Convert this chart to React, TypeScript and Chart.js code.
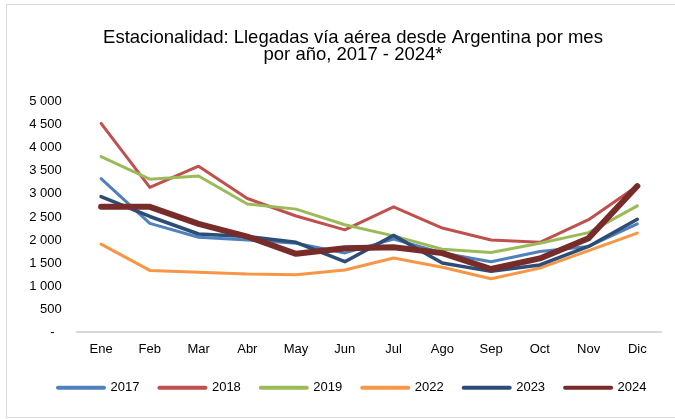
import React, { useEffect, useRef } from "react";
import { Chart, registerables } from "chart.js";

Chart.register(...registerables);

const months = ["Ene", "Feb", "Mar", "Abr", "May", "Jun", "Jul", "Ago", "Sep", "Oct", "Nov", "Dic"];
const titleLines = ["Estacionalidad: Llegadas vía aérea desde Argentina por mes", "por año, 2017 - 2024*"];

const y2017 = [3330, 2360, 2060, 2000, 1930, 1720, 2020, 1720, 1530, 1750, 1860, 2350];
const y2018 = [4530, 3140, 3600, 2900, 2520, 2220, 2720, 2260, 2000, 1950, 2440, 3170];
const y2019 = [3810, 3320, 3390, 2780, 2670, 2330, 2090, 1800, 1730, 1930, 2160, 2740];
const y2022 = [1910, 1340, 1300, 1260, 1245, 1350, 1610, 1410, 1160, 1390, 1770, 2150];
const y2023 = [2940, 2510, 2130, 2075, 1950, 1530, 2100, 1500, 1320, 1460, 1860, 2450];
const y2024 = [2720, 2720, 2350, 2075, 1700, 1820, 1845, 1715, 1370, 1600, 2040, 3170];

const seriesNames = ["2017", "2018", "2019", "2022", "2023", "2024"];
const seriesValues = [y2017, y2018, y2019, y2022, y2023, y2024];
const seriesColors = ["#4F81BD", "#C0504D", "#9BBB59", "#F79646", "#2C4D75", "#772C2A"];
const seriesWidths = [3, 3, 3, 3, 3.5, 6];

const FONT = "'Liberation Sans', Arial, Helvetica, sans-serif";

function fmt(v: number): string {
  if (v === 0) return "-  ";
  const s = Math.round(v).toString();
  return s.replace(/\B(?=(\d{3})+(?!\d))/g, " ");
}

export default function App() {
  const ref = useRef<HTMLCanvasElement | null>(null);

  useEffect(() => {
    if (!ref.current) return;
    const chart = new Chart(ref.current, {
      type: "line",
      data: {
        labels: months,
        datasets: seriesNames.map((name, i) => ({
          label: name,
          data: seriesValues[i],
          borderColor: seriesColors[i],
          backgroundColor: seriesColors[i],
          borderWidth: seriesWidths[i],
          borderJoinStyle: "round" as const,
          borderCapStyle: "round" as const,
          pointRadius: 0,
          pointHoverRadius: 0,
          tension: 0,
          fill: false,
          order: seriesNames.length - i,
          yAxisID: "y",
        })),
      },
      options: {
        responsive: false,
        animation: false,
        layout: { padding: { left: 38, right: 7, top: 0, bottom: 14.8 } },
        plugins: {
          tooltip: { enabled: false },
          title: {
            display: true,
            text: titleLines,
            color: "#000",
            font: { family: FONT, size: 18.5, weight: "normal", lineHeight: 0.903 },
            padding: { top: 29.5, bottom: 38.8 },
          },
          legend: {
            display: true,
            position: "bottom",
            align: "start",
            labels: {
              usePointStyle: true,
              pointStyle: "line",
              pointStyleWidth: 46,
              padding: 20,
              color: "#000",
              font: { family: FONT, size: 13 },
              sort: (a: any, b: any) => a.datasetIndex - b.datasetIndex,
              generateLabels: (c: any) => {
                const items = Chart.defaults.plugins.legend.labels.generateLabels(c);
                return items.map((it: any) => ({ ...it, lineWidth: 4, lineCap: "round", pointStyle: "line" }));
              },
            },
          },
        },
        scales: {
          x: {
            offset: true,
            grid: { display: false, drawTicks: false },
            border: { display: true, color: "#d9d9d9", width: 2 },
            ticks: { color: "#000", font: { family: FONT, size: 13 }, padding: 9, maxRotation: 0 },
            afterFit: (s: any) => {
              s.height = 29;
            },
          },
          y: {
            position: "left",
            min: 0,
            max: 5000,
            grid: { display: false, drawTicks: false },
            border: { display: false },
            ticks: {
              stepSize: 500,
              mirror: true,
              crossAlign: "far",
              padding: -47.5,
              color: "#000",
              font: { family: FONT, size: 13 },
              callback: (v: any) => fmt(Number(v)),
            },
            afterFit: (s: any) => {
              s.width = 38.7;
            },
          },
          yPad: {
            position: "right",
            display: true,
            grid: { display: false, drawTicks: false },
            border: { display: false },
            ticks: { display: false },
            afterFit: (s: any) => {
              s.width = 6.3;
            },
          },
        },
      },
    });
    return () => chart.destroy();
  }, []);

  return (
    <div
      style={{
        position: "fixed",
        left: 0,
        top: 0,
        width: 675,
        height: 419,
        overflow: "hidden",
        background: "#fff",
      }}
    >
      <div
        style={{
          position: "absolute",
          left: 6,
          top: 4,
          width: 720,
          height: 412,
          border: "1px solid #d9d9d9",
        }}
      />
      <canvas ref={ref} width={675} height={419} style={{ position: "absolute", left: 0, top: 0 }} />
    </div>
  );
}
